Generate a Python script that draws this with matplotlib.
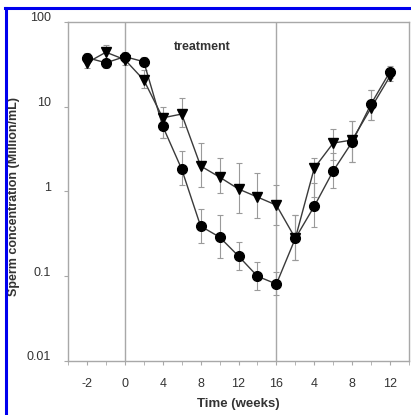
import matplotlib
matplotlib.use("Agg")
import matplotlib.pyplot as plt
import matplotlib.transforms as mtransforms
from matplotlib.lines import Line2D
import numpy as np

plt.rcParams['font.family'] = ['Liberation Sans', 'DejaVu Sans']

# x axis: pre-treatment (-2, -1), treatment weeks 0..16, recovery weeks 2..12
xpos = [-4, -2, 0, 2, 4, 6, 8, 10, 12, 14, 16, 18, 20, 22, 24, 26, 28]

# circles
circ = [38, 33, 39, 34, 5.9, 1.84, 0.39, 0.29, 0.173, 0.10, 0.081, 0.28, 0.67, 1.75, 3.84, 10.8, 26]
circ_lo = [33, 29, 34, 30, 4.3, 1.19, 0.25, 0.164, 0.119, 0.069, 0.060, 0.156, 0.38, 1.10, 2.23, 7.0, 22]
circ_hi = [43, 37, 44, 39, 8.5, 3.0, 0.62, 0.53, 0.254, 0.147, 0.112, 0.53, 1.26, 2.85, 6.8, 15.8, 30]

# triangles
tri = [33, 44, 36, 20.7, 7.4, 8.2, 2.0, 1.48, 1.07, 0.86, 0.69, 0.28, 1.89, 3.73, 4.05, 9.7, 23]
tri_lo = [29, 37, 31, 16.6, 4.3, 5.8, 1.13, 0.96, 0.56, 0.49, 0.40, 0.156, 0.86, 2.35, 2.23, 7.0, 20]
tri_hi = [38, 53, 41, 27.2, 9.9, 12.7, 3.73, 2.48, 2.17, 1.65, 1.19, 0.53, 2.48, 5.46, 6.8, 15.8, 27]

xtick_pos = [-4, 0, 4, 8, 12, 16, 20, 24, 28]
xtick_lab = ["-2", "0", "4", "8", "12", "16", "4", "8", "12"]
ytick_pos = [0.01, 0.1, 1, 10, 100]
ytick_lab = ["0.01", "0.1", "1", "10", "100"]

fig = plt.figure(figsize=(4.11, 4.15), dpi=100)
ax = fig.add_axes([68/411, 1 - 361/415, (409 - 68)/411, (361 - 22)/415])

gray = "#a8a8a8"
ax.axvline(0, color=gray, lw=1, zorder=1)
ax.axvline(16, color=gray, lw=1, zorder=1)

def draw(y, lo, hi, marker):
    y = np.array(y); lo = np.array(lo); hi = np.array(hi)
    ax.errorbar(xpos, y, yerr=[y - lo, hi - y], fmt='none', ecolor="#9a9a9a",
                elinewidth=0.8, capsize=2, capthick=0.8, zorder=2)
    ax.plot(xpos, y, color="#3a3a3a", lw=1, zorder=3)
    ax.plot(xpos, y, ls='none', marker=marker, ms=7, color="black", zorder=4, clip_on=False)

draw(tri, tri_lo, tri_hi, 'v')
draw(circ, circ_lo, circ_hi, 'o')

ax.set_yscale('log')
ax.set_ylim(0.01, 100)
ax.set_xlim(-6, 30)
ax.set_yticks(ytick_pos)
ax.set_yticklabels(ytick_lab)
ax.minorticks_off()
ax.set_xticks(np.arange(-6, 31, 2), minor=True)
ax.set_xticks(xtick_pos)
ax.set_xticklabels(xtick_lab)

for s in ax.spines.values():
    s.set_color(gray)
    s.set_linewidth(1)
ax.tick_params(axis='both', which='both', direction='out', length=3, color=gray,
               labelsize=9, labelcolor="#333333")
ax.tick_params(axis='x', pad=9)
ax.tick_params(axis='y', pad=9)

# y labels sit slightly above their ticks in the reference
off = mtransforms.ScaledTranslation(0, 5/100, fig.dpi_scale_trans)
for lab in ax.get_yticklabels():
    lab.set_transform(lab.get_transform() + off)

ax.set_xlabel("Time (weeks)", fontsize=9.5, fontweight='bold', color="#333333", labelpad=6)
ax.set_ylabel("Sperm concentration (Million/mL)", fontsize=9, fontweight='bold',
              color="#333333", va='center')
ax.yaxis.set_label_coords(-0.158, 0.484)
ax.text(8.2, 10**(2 - 25/84.75), "treatment", fontsize=9, fontweight='bold', color="#333333",
        ha='center', va='center')

# blue frame lines on top and left
fig.add_artist(Line2D([5/411, 1], [1 - 8.5/415, 1 - 8.5/415], color="#0000ee", lw=2.2))
fig.add_artist(Line2D([6/411, 6/411], [0, 1 - 8.5/415], color="#0000ee", lw=2.2))

fig.savefig("out.png", dpi=100)
